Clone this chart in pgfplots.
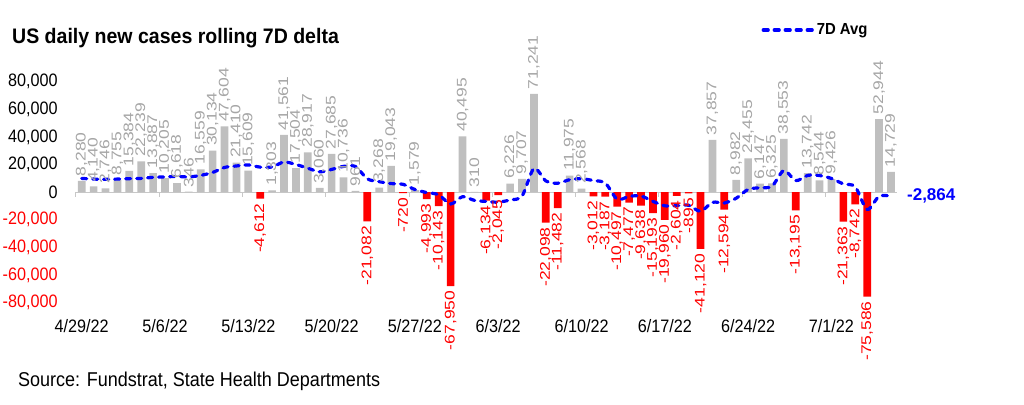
\documentclass[border=0pt]{standalone}
\usepackage{pgfplots}
\pgfplotsset{compat=1.18}
\usepackage{fontspec}
\setmainfont{Liberation Sans}
\newfontfamily\tickfont{Liberation Sans}[FakeStretch=0.9]
\newfontfamily\titlefont{Liberation Sans}[FakeStretch=0.93]
\newfontfamily\lblfont{Liberation Sans}[FakeStretch=1.25]
\definecolor{barGray}{RGB}{191,191,191}
\definecolor{lblGray}{RGB}{166,166,166}
\definecolor{axGray}{RGB}{200,200,200}
\definecolor{avgBlue}{RGB}{0,0,255}
\begin{document}
\begin{tikzpicture}
\useasboundingbox (0,0) rectangle (1024bp,405bp);
\begin{axis}[
  at={(75.75bp,102.3bp)}, anchor=south west,
  scale only axis, width=821.15bp, height=221bp,
  xmin=-0.5, xmax=68.5, ymin=-80000, ymax=80000,
  clip=false,
  axis x line*=bottom, axis y line*=left,
  axis line style={draw=none},
  major tick length=0pt,
  xtick={0,7,...,63},
  xticklabels={4/29/22,5/6/22,5/13/22,5/20/22,5/27/22,6/3/22,6/10/22,6/17/22,6/24/22,7/1/22},
  ytick={-80000,-60000,-40000,-20000,0,20000,40000,60000,80000},
  yticklabels={{\color{red}-80,000},{\color{red}-60,000},{\color{red}-40,000},{\color{red}-20,000},{0},{20,000},{40,000},{60,000},{80,000}},
  xticklabel style={font=\tickfont\fontsize{18bp}{20bp}\selectfont, anchor=center, inner sep=0pt, yshift=-23.3bp},
  yticklabel style={font=\tickfont\fontsize{18bp}{20bp}\selectfont, anchor=east, inner sep=0pt, xshift=-18bp},
  scaled y ticks=false,
  legend style={at={(0.835,1.234)}, anchor=west, draw=none, fill=none, inner sep=0pt,
    font=\titlefont\bfseries\fontsize{16bp}{18bp}\selectfont},
  legend image code/.code={\draw[#1] (0bp,0bp) -- (50bp,0bp);},
]
\draw[axGray, line width=0.8bp] (axis cs:-0.5,0) -- (axis cs:68.5,0);
\pgfplotsinvokeforeach{-0.5,6.5,13.5,20.5,27.5,34.5,41.5,48.5,55.5,62.5}{
  \draw[axGray, line width=0.8bp] (axis cs:#1,0) -- ([yshift=-5bp]axis cs:#1,0);
}
% positive daily deltas
\addplot[ybar, bar width=7.7bp, bar shift=0pt, fill=barGray, draw=none, forget plot,
  point meta=y,
  nodes near coords={\pgfmathprintnumber[fixed,precision=0,1000 sep={,},assume math mode=true]{\pgfplotspointmeta}},
  every node near coord/.append style={rotate=90, anchor=west, inner sep=4.5bp, text=lblGray,
    font=\lblfont\fontsize{14bp}{16bp}\selectfont}]
coordinates {(0,8280) (1,4140) (2,2746) (3,8755) (4,15384) (5,22239) (6,13887) (7,10205) (8,6618) (9,346) (10,16559) (11,30134) (12,47604) (13,21410) (14,15609) (16,1303) (17,41561) (18,17504) (19,28917) (20,3060) (21,27685) (22,10736) (23,961) (25,3268) (26,19043) (28,1579) (32,40495) (33,310) (36,6226) (37,9707) (38,71241) (41,11975) (42,2568) (53,37857) (55,8982) (56,24455) (57,6147) (58,6325) (59,38553) (61,13742) (62,8544) (63,9426) (67,52944) (68,14729)};
% negative daily deltas
\addplot[ybar, bar width=7.7bp, bar shift=0pt, fill=red, draw=none, forget plot,
  point meta=y,
  nodes near coords={\pgfmathprintnumber[fixed,precision=0,1000 sep={,},assume math mode=true]{\pgfplotspointmeta}},
  every node near coord/.append style={rotate=90, anchor=east, inner sep=4.5bp, text=red,
    font=\lblfont\fontsize{14bp}{16bp}\selectfont}]
coordinates {(15,-4612) (24,-21082) (27,-720) (29,-4993) (30,-10143) (31,-67950) (34,-6134) (35,-2045) (39,-22098) (40,-11482) (43,-3012) (44,-3187) (45,-10497) (46,-7477) (47,-9638) (48,-15193) (49,-19960) (50,-2604) (51,-895) (52,-41120) (54,-12594) (60,-13195) (64,-21363) (65,-8742) (66,-75586)};
% 7-day average
\addplot[avgBlue, line width=3.2bp, dash pattern=on 5bp off 6bp, line cap=round, smooth, tension=0.5, mark=none]
coordinates {(0,10000) (1,9500) (2,9300) (3,9500) (4,9800) (5,10000) (6,10776) (7,11051) (8,11405) (9,11062) (10,12177) (11,14284) (12,17908) (13,18982) (14,19754) (15,18150) (16,18287) (17,21858) (18,20054) (19,17385) (20,14763) (21,16488) (22,18681) (23,18632) (24,9683) (25,7649) (26,6239) (27,5699) (28,1969) (29,-278) (30,-1864) (31,-8559) (32,-3241) (33,-5917) (34,-6691) (35,-7209) (36,-5606) (37,-2770) (38,17114) (39,8172) (40,6488) (41,9075) (42,9734) (43,8414) (44,6572) (45,-5105) (46,-3016) (47,-2753) (48,-6634) (49,-9852) (50,-9794) (51,-9466) (52,-13841) (53,-7365) (54,-7787) (55,-4333) (56,2012) (57,3262) (58,4293) (59,15675) (60,8382) (61,12144) (62,12082) (63,9935) (64,6005) (65,3852) (66,-12453) (67,-3005) (68,-2864)};
\addlegendentry{7D Avg}
\node[anchor=west, inner sep=0pt, text=avgBlue, font=\bfseries\fontsize{17bp}{20bp}\selectfont, xshift=16bp] at (axis cs:68,-2864) {-2,864};
\end{axis}
\node[anchor=west, inner sep=0pt, font=\titlefont\bfseries\fontsize{21bp}{24bp}\selectfont] at (12bp,367bp) {US daily new cases rolling 7D delta};
\node[anchor=west, inner sep=0pt, font=\tickfont\fontsize{20bp}{24bp}\selectfont] at (18bp,24bp) {Source: Fundstrat, State Health Departments};
\end{tikzpicture}
\end{document}
